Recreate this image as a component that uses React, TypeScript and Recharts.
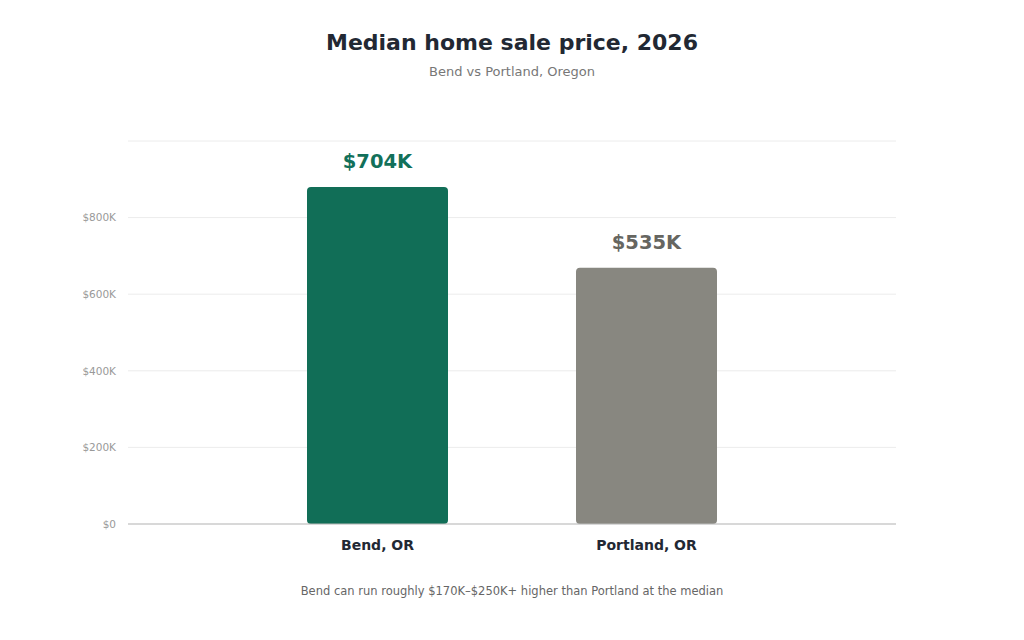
import React from 'react'
import { BarChart, Bar, XAxis, YAxis, CartesianGrid, Cell, LabelList } from 'recharts'

const cities = ['Bend, OR', 'Portland, OR']
// bar heights as they sit on the axis (in $K)
const barHeightK = [880, 669]
// the value printed above each bar
const priceLabels = ['$704K', '$535K']
const barColors = ['#116e57', '#888780']
const labelColors = ['#12705a', '#666661']
const yTicks = [0, 200, 400, 600, 800, 1000]
const yTickLabels = ['$0', '$200K', '$400K', '$600K', '$800K', '']

const data = cities.map((city, i) => ({ city, value: barHeightK[i], label: priceLabels[i] }))

const font = '"DejaVu Sans", sans-serif'

function PriceLabel(props: any) {
  const { x, y, width, index } = props
  return (
    <text
      x={x + width / 2}
      y={y - 19}
      textAnchor="middle"
      fontFamily={font}
      fontSize={19.5}
      fontWeight="bold"
      fill={labelColors[index]}
    >
      {priceLabels[index]}
    </text>
  )
}

export default function App() {
  return (
    <div style={{ position: 'fixed', top: 0, left: 0, width: 1024, height: 640, background: '#fff', fontFamily: font }}>
      <div style={{ position: 'absolute', top: 30, width: 1024, textAlign: 'center', fontSize: 22, fontWeight: 'bold', color: '#222833' }}>
        Median home sale price, 2026
      </div>
      <div style={{ position: 'absolute', top: 64, width: 1024, textAlign: 'center', fontSize: 13, color: '#777' }}>
        Bend vs Portland, Oregon
      </div>
      <BarChart
        width={1024}
        height={640}
        data={data}
        margin={{ top: 141, right: 128, bottom: 86, left: 68 }}
        barSize={141}
      >
        <CartesianGrid vertical={false} stroke="#ececec" />
        <XAxis
          dataKey="city"
          padding={{ left: 115, right: 115 }}
          axisLine={{ stroke: '#bbbbbb' }}
          tickLine={false}
          tickMargin={10}
          tick={{ fontFamily: font, fontSize: 14, fontWeight: 'bold', fill: '#222833' }}
        />
        <YAxis
          width={60}
          domain={[0, 1000]}
          ticks={yTicks}
          axisLine={false}
          tickLine={false}
          tickMargin={6}
          tickFormatter={(v: number) => yTickLabels[yTicks.indexOf(v)]}
          tick={{ fontFamily: font, fontSize: 10.5, fill: '#999' }}
        />
        <Bar dataKey="value" radius={4} isAnimationActive={false}>
          {data.map((d, i) => (
            <Cell key={d.city} fill={barColors[i]} />
          ))}
          <LabelList dataKey="label" content={<PriceLabel />} />
        </Bar>
      </BarChart>
      <div style={{ position: 'absolute', top: 584, width: 1024, textAlign: 'center', fontSize: 11.5, color: '#666' }}>
        Bend can run roughly $170K–$250K+ higher than Portland at the median
      </div>
    </div>
  )
}
